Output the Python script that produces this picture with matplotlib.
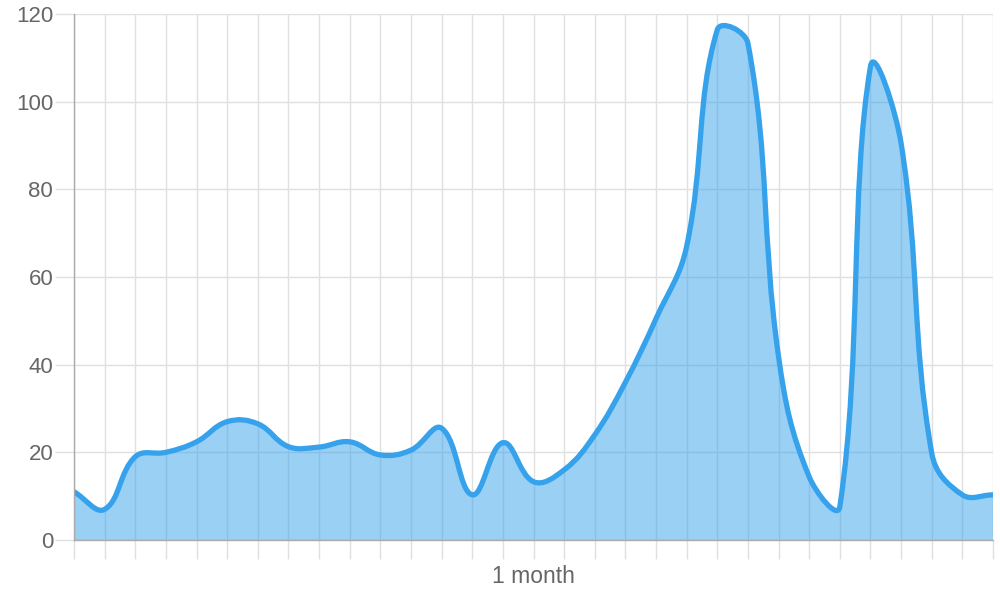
import numpy as np
import matplotlib
matplotlib.use("Agg")
import matplotlib.pyplot as plt
from matplotlib.path import Path
from matplotlib.patches import PathPatch

# Daily values over one month
days = list(range(31))
values = [11, 7, 19, 20, 22.4, 27, 26.5, 21.3, 21.2, 22.4,
          19.4, 20.5, 25.5, 10.3, 22.2, 13.3, 16, 24, 36, 50.5,
          67, 116.4, 113.3, 41.8, 14.4, 7.6, 108, 90.5, 19.8, 10.3,
          10.3]
x_label = "1 month"
y_ticks = [0, 20, 40, 60, 80, 100, 120]

line_color = "#36a2eb"
fill_color = (54 / 255, 162 / 255, 235 / 255, 0.5)
grid_color = "#e0e0e0"
axis_color = "#aaaaaa"
text_color = "#666666"

plt.rcParams["font.family"] = ["Liberation Sans", "DejaVu Sans"]

fig = plt.figure(figsize=(10, 6), dpi=100)
ax = fig.add_axes([0.074, 0.1, 0.919, 0.8767])
ax.set_xlim(0, 30)
ax.set_ylim(0, 120)


# Chart.js style bezier spline (tension 0.4), control points computed in pixel space
def spline_path(xs, ys, tension=0.4):
    sx = 919 / 30.0
    sy = 526 / 120.0
    px = np.asarray(xs, float) * sx
    py = np.asarray(ys, float) * sy
    n = len(px)
    cp_prev = []
    cp_next = []
    for i in range(n):
        pi = max(i - 1, 0)
        ni = min(i + 1, n - 1)
        d01 = np.hypot(px[i] - px[pi], py[i] - py[pi])
        d12 = np.hypot(px[ni] - px[i], py[ni] - py[i])
        tot = d01 + d12
        s01 = d01 / tot if tot else 0
        s12 = d12 / tot if tot else 0
        fa = tension * s01
        fb = tension * s12
        dx = px[ni] - px[pi]
        dy = py[ni] - py[pi]
        cp_prev.append((px[i] - fa * dx, py[i] - fa * dy))
        cp_next.append((px[i] + fb * dx, py[i] + fb * dy))

    def back(p):
        return (p[0] / sx, min(max(p[1] / sy, 0), 120))

    verts = [(xs[0], ys[0])]
    codes = [Path.MOVETO]
    for i in range(n - 1):
        verts += [back(cp_next[i]), back(cp_prev[i + 1]), (xs[i + 1], ys[i + 1])]
        codes += [Path.CURVE4] * 3
    return verts, codes


verts, codes = spline_path(days, values)

# filled area down to zero
fill_verts = verts + [(days[-1], 0), (days[0], 0), (days[0], values[0])]
fill_codes = codes + [Path.LINETO, Path.LINETO, Path.CLOSEPOLY]
ax.add_patch(PathPatch(Path(fill_verts, fill_codes), facecolor=fill_color,
                       edgecolor="none", zorder=2))
ax.add_patch(PathPatch(Path(verts, codes), facecolor="none", edgecolor=line_color,
                       linewidth=3.8, capstyle="round", joinstyle="round", zorder=3))

# grid and axes
ax.set_xticks(days)
ax.set_xticklabels([x_label if d == 15 else "" for d in days])
ax.set_yticks(y_ticks)
ax.set_yticklabels([str(v) for v in y_ticks])
ax.grid(True, color=grid_color, linewidth=1)
ax.set_axisbelow(True)

for side in ["top", "right"]:
    ax.spines[side].set_visible(False)
for side in ["left", "bottom"]:
    ax.spines[side].set_color(axis_color)
    ax.spines[side].set_linewidth(1)
    ax.spines[side].set_zorder(4)

ax.tick_params(axis="both", length=13.5, width=1, color=grid_color,
               labelcolor=text_color, labelsize=16)
ax.tick_params(axis="y", pad=1.5)
ax.tick_params(axis="x", pad=4.5, labelsize=16.5)
ax.yaxis.get_major_ticks()[0].tick1line.set_color(axis_color)
ax.xaxis.get_major_ticks()[0].tick1line.set_color(axis_color)

fig.savefig("out.png", dpi=100)
